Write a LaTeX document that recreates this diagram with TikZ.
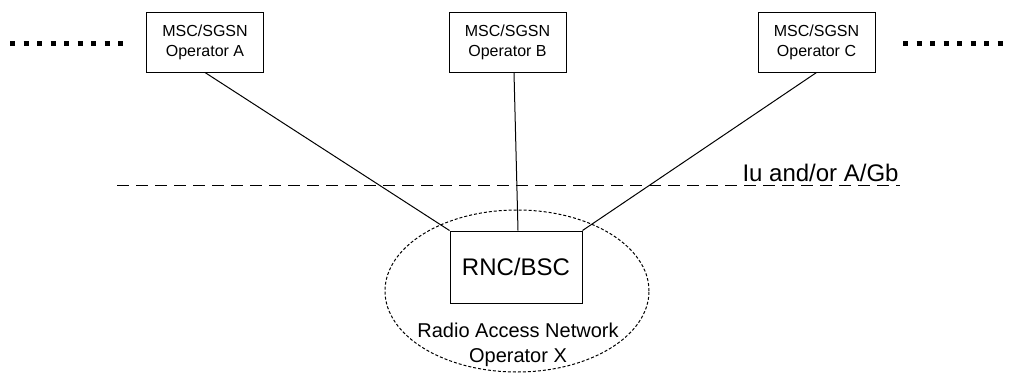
\documentclass[tikz,border=0pt]{standalone}
\usepackage{fontspec}
\setmainfont{Liberation Sans}
\usetikzlibrary{shapes.geometric}
\begin{document}
\begin{tikzpicture}[x=1pt,y=-1pt,line width=1pt,
  msc/.style={draw, minimum width=117pt, minimum height=60pt, align=center,
    inner sep=0pt, font=\fontsize{16}{20}\selectfont},
  rnc/.style={draw, minimum width=132pt, minimum height=72pt, inner sep=0pt,
    font=\fontsize{24}{28}\selectfont},
  ran/.style={draw, ellipse, dash pattern=on 3pt off 2pt, minimum width=264pt,
    minimum height=162pt, inner sep=0pt},
  link/.style={draw},
  iface/.style={draw, dash pattern=on 12pt off 7pt},
  more/.style={draw, line width=5pt, dash pattern=on 5pt off 8.5pt},
  lbl/.style={align=center, inner sep=0pt}]
\useasboundingbox (0,0) rectangle (1012,376);
% ellipse
\node[ran] (ran) at (517,291) {};
\node[lbl, font=\fontsize{20}{25}\selectfont] (ranlbl) at (518,345) {Radio Access Network\\Operator X};
% boxes
\node[msc] (A) at (205,42) {MSC/SGSN\\Operator A};
\node[msc] (B) at (507.5,42) {MSC/SGSN\\Operator B};
\node[msc] (C) at (816.5,42) {MSC/SGSN\\Operator C};
\node[rnc] (R) at (516,267) {RNC/BSC};
% connectors
\draw[link] (A.south) -- (R.north west);
\draw[link] ([xshift=6.5pt]B.south) -- ([xshift=2pt]R.north);
\draw[link] (C.south) -- (R.north east);
% interface line
\coordinate (d1) at (117,185);
\coordinate (d2) at (900,185);
\draw[iface] (d1) -- (d2);
\node[lbl, anchor=base west, font=\fontsize{24}{28}\selectfont] (iu) at (742,181) {Iu and/or A/Gb};
% more operators
\coordinate (l1) at (10,43);
\coordinate (l2) at (126,43);
\coordinate (r1) at (903,43);
\coordinate (r2) at (1005,43);
\draw[more] (l1) -- (l2);
\draw[more] (r1) -- (r2);
\end{tikzpicture}
\end{document}
